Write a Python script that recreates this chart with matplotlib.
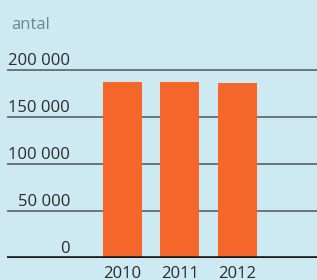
import matplotlib
matplotlib.use("Agg")
import matplotlib.pyplot as plt
from matplotlib.transforms import blended_transform_factory, offset_copy

categories = ["2010", "2011", "2012"]
values = [187000, 187000, 186000]
yticks = [0, 50000, 100000, 150000, 200000]
ytick_labels = ["0", "50 000", "100 000", "150 000", "200 000"]
unit_label = "antal"

bg = "#cde9f2"
bar_color = "#f4662a"
grid_color = "#6d7479"
text_color = "#2b2b2b"

fig = plt.figure(figsize=(3.17, 2.80), dpi=100)
fig.patch.set_facecolor(bg)
W, H = 317, 280
ax = fig.add_axes([7 / W, (H - 257.5) / H, 1 - 7 / W, (257.5 - 40) / H])
ax.set_facecolor(bg)
for s in ax.spines.values():
    s.set_visible(False)
ax.set_xticks([])
ax.set_yticks([])

x = list(range(len(categories)))
ax.set_xlim(-2.0, 3.38)
ax.set_ylim(0, 232000)

for yv in yticks[1:]:
    ax.axhline(yv, color=grid_color, lw=1.4, zorder=1)
ax.bar(x, values, width=0.68, color=bar_color, zorder=2)
ax.axhline(0, color="#1a1a1a", lw=2.6, zorder=3)

font = "Open Sans"
tr = blended_transform_factory(ax.transAxes, ax.transData)
tr_up = offset_copy(tr, fig=fig, x=0, y=4.5, units="dots")
for yv, lab in zip(yticks, ytick_labels):
    ax.text((70 - 7) / (W - 7), yv, lab, transform=tr_up, ha="right", va="baseline",
            fontsize=12, family=font, color=text_color)

trx = blended_transform_factory(ax.transData, ax.transAxes)
trx_dn = offset_copy(trx, fig=fig, x=0, y=-20.5, units="dots")
for xi, lab in zip(x, categories):
    ax.text(xi, 0, lab, transform=trx_dn, ha="center", va="baseline",
            fontsize=12, family=font, color=text_color, clip_on=False)

fig.text(11 / W, 1 - 29 / H, unit_label, ha="left", va="baseline",
         fontsize=12, family=font, color="#6f8791")

fig.savefig("out.png", dpi=100, facecolor=bg)
